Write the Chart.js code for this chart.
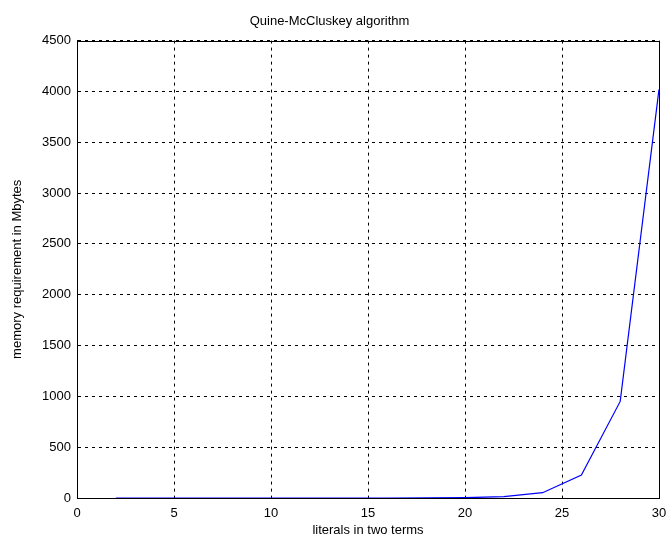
<!DOCTYPE html>
<html>
<head>
<meta charset="utf-8">
<script src="https://cdn.jsdelivr.net/npm/chart.js@4"></script>
<style>
  html, body { margin: 0; padding: 0; background: #fff; }
  canvas { display: block; }
</style>
</head>
<body>
<canvas id="memChart" width="666" height="545"></canvas>
<script>
const literals = [2, 4, 6, 8, 10, 12, 14, 16, 18, 20, 22, 24, 26, 28, 30];
const memoryMb = [0, 0, 0, 0, 0, 0, 0, 0, 1, 3, 13, 52, 226, 950, 4020];

const FONT = "'Liberation Sans', Arial, sans-serif";

// box around the axes, like matlab does
const boxPlugin = {
  id: "box",
  afterDraw(chart) {
    const { ctx, chartArea: a } = chart;
    ctx.save();
    ctx.strokeStyle = "#000";
    ctx.lineWidth = 1;
    ctx.strokeRect(Math.round(a.left) + 0.5, Math.round(a.top) + 0.5,
      Math.round(a.right - a.left), Math.round(a.bottom - a.top));
    ctx.restore();
  },
};

const memChart = new Chart(document.getElementById("memChart"), {
  type: "line",
  data: {
    datasets: [
      {
        label: "memory",
        data: literals.map((x, i) => ({ x: x, y: memoryMb[i] })),
        borderColor: "#0000ff",
        borderWidth: 1.2,
        pointRadius: 0,
        tension: 0,
      },
    ],
  },
  options: {
    responsive: false,
    animation: false,
    maintainAspectRatio: false,
    layout: { padding: { left: 0, right: 7, top: 0, bottom: 0 } },
    plugins: {
      legend: { display: false },
      tooltip: { enabled: false },
      title: {
        display: true,
        text: "Quine-McCluskey algorithm",
        color: "#000",
        font: { family: FONT, size: 13, weight: "normal" },
        padding: { top: 14, bottom: 11 },
      },
    },
    scales: {
      x: {
        type: "linear",
        min: 0,
        max: 30,
        ticks: {
          stepSize: 5, autoSkip: false, color: "#000", padding: 8,
          font: { family: FONT, size: 13 },
          callback: (v) => String(v),
        },
        grid: { color: "#000", lineWidth: 1, drawTicks: false },
        border: { display: true, color: "#000", width: 1, dash: [3, 4] },
        title: {
          display: true,
          text: "literals in two terms",
          color: "#000",
          font: { family: FONT, size: 13 },
          padding: { top: 0, bottom: 7 },
        },
        afterFit(scale) {
          scale.height = 47;
          scale.paddingLeft = 0;
          scale.paddingRight = 0;
        },
      },
      y: {
        min: 0,
        max: 4500,
        ticks: {
          stepSize: 500, autoSkip: false, color: "#000", padding: 6,
          font: { family: FONT, size: 13 },
          callback: (v) => String(v),
        },
        grid: { color: "#000", lineWidth: 1, drawTicks: false },
        border: { display: true, color: "#000", width: 1, dash: [3, 4] },
        title: {
          display: true,
          text: "memory requirement in Mbytes",
          color: "#000",
          font: { family: FONT, size: 13 },
          padding: { top: 10, bottom: 0 },
        },
        afterFit(scale) { scale.width = 77; },
      },
    },
  },
  plugins: [boxPlugin],
});
</script>
</body>
</html>
